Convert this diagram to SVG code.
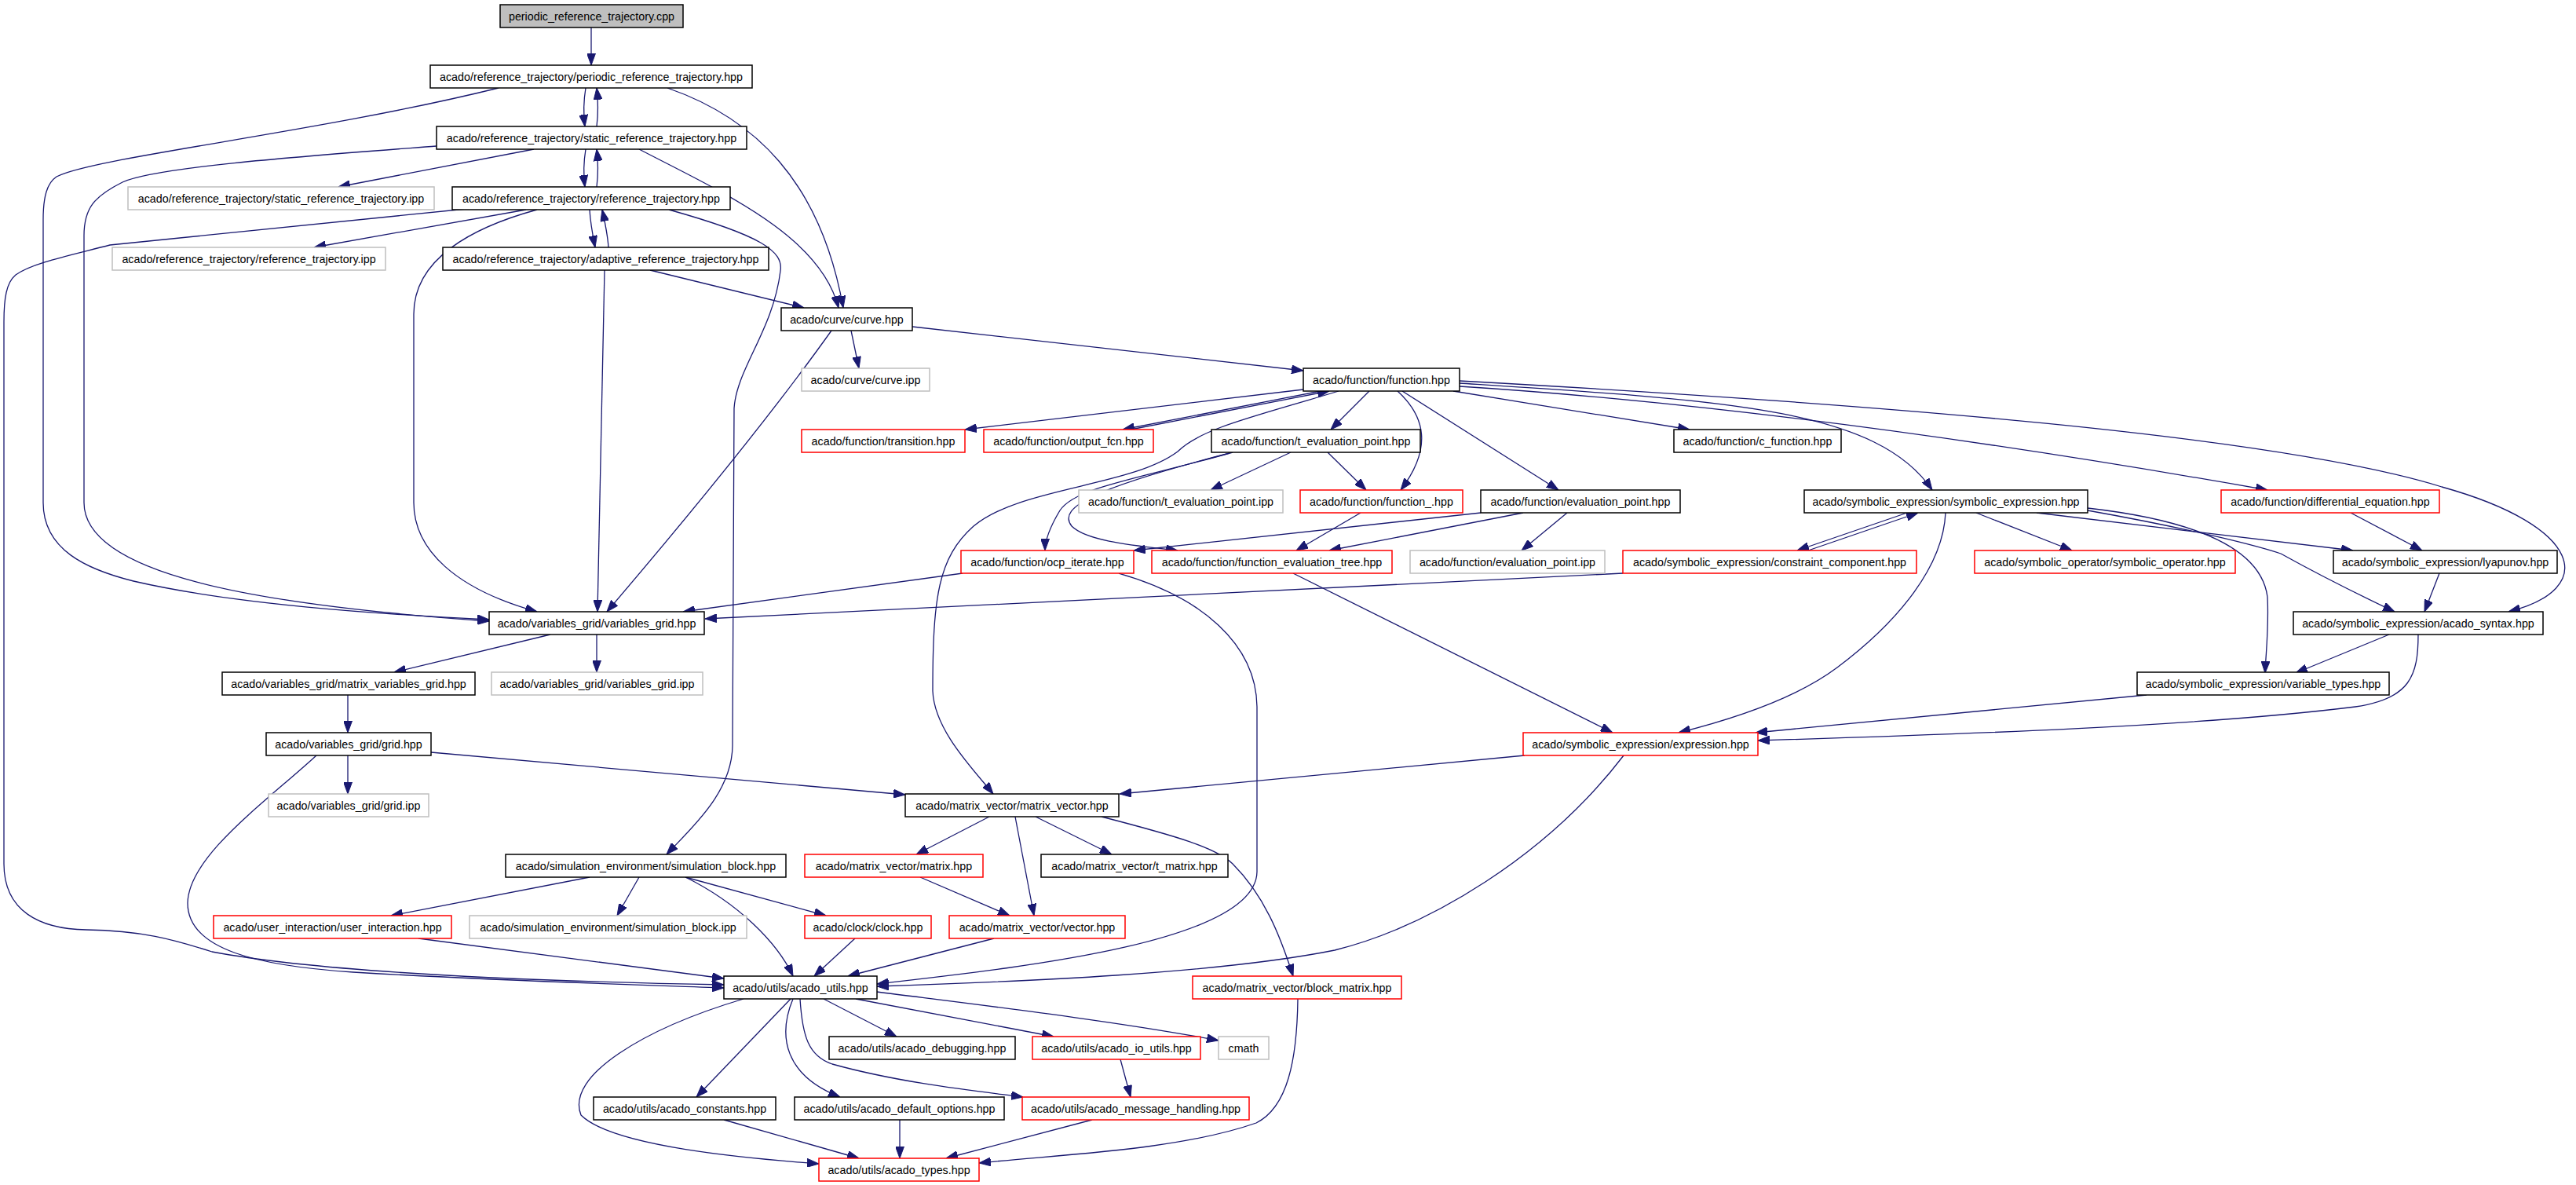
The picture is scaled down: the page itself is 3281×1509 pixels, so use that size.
<svg xmlns="http://www.w3.org/2000/svg" width="3281" height="1509" viewBox="0 0 3281 1509">
<style>
.e{fill:none;stroke:#191970;stroke-width:1.3;marker-end:url(#a)}
rect{fill:#fff;stroke:#000;stroke-width:1.5}
.r rect{stroke:#ff0000}
.g rect{stroke:#bfbfbf}
.root rect{fill:#bfbfbf}
text{font-family:"Liberation Sans",Arial,sans-serif;font-size:14.3px;fill:#000;text-anchor:middle}
</style>
<defs>
<marker id="a" markerUnits="userSpaceOnUse" markerWidth="15" markerHeight="11" refX="15" refY="5.5" orient="auto" viewBox="0 0 15 11"><path d="M0,0 L15,5.5 L0,11 z" fill="#191970" stroke="#191970"/></marker>
</defs>
<rect x="0" y="0" width="3281" height="1509" style="fill:#fff;stroke:none"/>
<g id="edges">
<path class="e" d="M753,34 L753,83"/>
<path class="e" d="M746,112 C743,130 743,145 745,161"/>
<path class="e" d="M760,161 C762,145 762,130 760,112"/>
<path class="e" d="M746,190 C743,208 743,222 745,238"/>
<path class="e" d="M760,238 C762,222 762,207 760,190"/>
<path class="e" d="M751,267 C752,285 755,300 758,315"/>
<path class="e" d="M775,315 C774,300 771,285 767,267"/>
<path class="e" d="M635,112 C400,170 120,200 72,225 C60,233 55,250 55,280 L55,640 C55,700 110,725 170,740 C300,770 480,782 623,789"/>
<path class="e" d="M556,186 C400,198 200,212 156,232 C120,250 107,265 107,300 L107,640 C107,730 320,770 623,791"/>
<path class="e" d="M680,190 L431,238"/>
<path class="e" d="M814,190 C920,245 1045,300 1068,392"/>
<path class="e" d="M850,112 C960,150 1045,230 1074,392"/>
<path class="e" d="M828,344 L1024,392"/>
<path class="e" d="M770,344 L761,779"/>
<path class="e" d="M684,267 C600,290 527,330 527,400 L527,640 C527,700 580,750 684,779"/>
<path class="e" d="M670,267 L400,315"/>
<path class="e" d="M594,266 L140,312 C90,325 40,335 20,350 C8,360 5,380 5,410 L5,1100 C5,1160 50,1183 110,1184 C180,1185 220,1196 270,1212 C420,1240 700,1250 922,1254"/>
<path class="e" d="M852,267 C970,300 998,320 994,345 C985,420 938,470 935,520 L933,950 C932,1010 880,1055 849,1088"/>
<path class="e" d="M1084,421 L1094,469"/>
<path class="e" d="M1162,416 L1660,472"/>
<path class="e" d="M1059,421 Q960,560 773,779"/>
<path class="e" d="M1226,730 L870,779"/>
<path class="e" d="M2067,730 L898,788"/>
<path class="e" d="M1660,496 L1229,547"/>
<path class="e" d="M1682,498 L1430,547"/>
<path class="e" d="M1440,547 L1693,498"/>
<path class="e" d="M1705,498 C1600,530 1530,545 1500,575 C1440,620 1300,620 1240,670 C1195,710 1188,760 1188,880 C1190,930 1240,980 1265,1011"/>
<path class="e" d="M1744,498 L1695,547"/>
<path class="e" d="M1780,498 C1815,530 1825,570 1784,624"/>
<path class="e" d="M1786,498 L1985,624"/>
<path class="e" d="M1851,498 L2152,547"/>
<path class="e" d="M1859,488 C2200,510 2390,520 2461,624"/>
<path class="e" d="M1859,492 Q2300,520 2888,624"/>
<path class="e" d="M1859,485 C2400,515 2900,555 3110,620 C3290,670 3310,750 3195,779"/>
<path class="e" d="M1644,576 L1542,624"/>
<path class="e" d="M1691,576 L1740,624"/>
<path class="e" d="M1570,576 C1450,610 1370,620 1350,650 C1335,675 1331,690 1331,701"/>
<path class="e" d="M1566,577 C1400,620 1345,645 1365,670 C1385,690 1450,695 1500,701"/>
<path class="e" d="M1733,653 L1651,701"/>
<path class="e" d="M1886,653 L1444,701"/>
<path class="e" d="M1940,653 L1693,701"/>
<path class="e" d="M1996,653 L1938,701"/>
<path class="e" d="M1425,730 C1530,760 1600,820 1601,900 L1601,1110 C1600,1200 1300,1232 1117,1253"/>
<path class="e" d="M1647,730 L2054,933"/>
<path class="e" d="M2429,653 L2289,701"/>
<path class="e" d="M2303,701 L2443,653"/>
<path class="e" d="M2517,653 L2639,701"/>
<path class="e" d="M2594,653 L2997,701"/>
<path class="e" d="M2659,650 C2760,668 2860,690 2905,705 C2950,730 3010,760 3050,779"/>
<path class="e" d="M2659,647 C2800,663 2880,700 2888,760 C2890,800 2886,830 2885,857"/>
<path class="e" d="M2478,653 C2475,720 2420,790 2340,850 C2280,895 2190,920 2138,933"/>
<path class="e" d="M2994,653 L3085,701"/>
<path class="e" d="M3107,730 L3088,779"/>
<path class="e" d="M3043,808 L2924,857"/>
<path class="e" d="M3080,808 C3080,860 3070,890 3000,900 C2800,925 2500,935 2239,943"/>
<path class="e" d="M2734,885 L2236,933"/>
<path class="e" d="M1942,962 L1426,1011"/>
<path class="e" d="M2068,962 C1970,1090 1820,1180 1700,1210 C1550,1240 1300,1250 1117,1256"/>
<path class="e" d="M549,958 L1153,1012"/>
<path class="e" d="M443,962 L443,1011"/>
<path class="e" d="M403,962 C340,1020 240,1090 239,1150 C239,1210 330,1230 450,1238 C650,1250 850,1255 922,1258"/>
<path class="e" d="M701,808 L502,856"/>
<path class="e" d="M760,808 L760,856"/>
<path class="e" d="M443,885 L443,933"/>
<path class="e" d="M1260,1040 L1167,1088"/>
<path class="e" d="M1293,1040 L1317,1166"/>
<path class="e" d="M1319,1040 L1416,1088"/>
<path class="e" d="M1403,1040 C1500,1065 1550,1080 1570,1100 C1610,1140 1630,1190 1647,1243"/>
<path class="e" d="M1172,1117 L1286,1166"/>
<path class="e" d="M1266,1195 L1080,1243"/>
<path class="e" d="M1089,1195 L1037,1243"/>
<path class="e" d="M873,1117 C940,1150 990,1200 1010,1243"/>
<path class="e" d="M873,1117 L1052,1166"/>
<path class="e" d="M814,1117 L786,1166"/>
<path class="e" d="M751,1117 L498,1166"/>
<path class="e" d="M533,1195 L922,1246"/>
<path class="e" d="M1007,1272 L887,1397"/>
<path class="e" d="M947,1272 C820,1310 720,1370 740,1420 C780,1460 950,1475 1043,1482"/>
<path class="e" d="M1010,1272 C990,1320 1000,1370 1070,1397"/>
<path class="e" d="M1019,1272 C1022,1320 1030,1345 1060,1355 C1150,1380 1250,1390 1303,1397"/>
<path class="e" d="M1049,1272 L1142,1320"/>
<path class="e" d="M1090,1272 L1342,1320"/>
<path class="e" d="M1117,1263 C1250,1280 1420,1300 1552,1325"/>
<path class="e" d="M1427,1349 L1440,1397"/>
<path class="e" d="M922,1426 L1094,1475"/>
<path class="e" d="M1146,1426 L1146,1475"/>
<path class="e" d="M1391,1426 L1205,1475"/>
<path class="e" d="M1653,1272 C1652,1350 1640,1410 1600,1430 C1500,1465 1350,1470 1247,1481"/>
</g>
<g id="n1" class="root"><rect x="637" y="6" width="233" height="29"/><text x="753.5" y="25.5">periodic_reference_trajectory.cpp</text></g>
<g id="n2"><rect x="548" y="83" width="410" height="29"/><text x="753" y="102.5">acado/reference_trajectory/periodic_reference_trajectory.hpp</text></g>
<g id="n3"><rect x="556" y="161" width="395" height="29"/><text x="753.5" y="180.5">acado/reference_trajectory/static_reference_trajectory.hpp</text></g>
<g id="n4" class="g"><rect x="163" y="238" width="390" height="29"/><text x="358" y="257.5">acado/reference_trajectory/static_reference_trajectory.ipp</text></g>
<g id="n5"><rect x="576" y="238" width="354" height="29"/><text x="753" y="257.5">acado/reference_trajectory/reference_trajectory.hpp</text></g>
<g id="n6" class="g"><rect x="143" y="315" width="348" height="29"/><text x="317" y="334.5">acado/reference_trajectory/reference_trajectory.ipp</text></g>
<g id="n7"><rect x="564" y="315" width="415" height="29"/><text x="771.5" y="334.5">acado/reference_trajectory/adaptive_reference_trajectory.hpp</text></g>
<g id="n8"><rect x="995" y="392" width="167" height="29"/><text x="1078.5" y="411.5">acado/curve/curve.hpp</text></g>
<g id="n9" class="g"><rect x="1021" y="469" width="163" height="29"/><text x="1102.5" y="488.5">acado/curve/curve.ipp</text></g>
<g id="n10"><rect x="1660" y="469" width="199" height="29"/><text x="1759.5" y="488.5">acado/function/function.hpp</text></g>
<g id="n11" class="r"><rect x="1021" y="547" width="208" height="29"/><text x="1125" y="566.5">acado/function/transition.hpp</text></g>
<g id="n12" class="r"><rect x="1253" y="547" width="216" height="29"/><text x="1361" y="566.5">acado/function/output_fcn.hpp</text></g>
<g id="n13"><rect x="1543" y="547" width="266" height="29"/><text x="1676" y="566.5">acado/function/t_evaluation_point.hpp</text></g>
<g id="n14"><rect x="2132" y="547" width="213" height="29"/><text x="2238.5" y="566.5">acado/function/c_function.hpp</text></g>
<g id="n15" class="g"><rect x="1374" y="624" width="260" height="29"/><text x="1504" y="643.5">acado/function/t_evaluation_point.ipp</text></g>
<g id="n16" class="r"><rect x="1656" y="624" width="207" height="29"/><text x="1759.5" y="643.5">acado/function/function_.hpp</text></g>
<g id="n17"><rect x="1886" y="624" width="254" height="29"/><text x="2013" y="643.5">acado/function/evaluation_point.hpp</text></g>
<g id="n18"><rect x="2298" y="624" width="361" height="29"/><text x="2478.5" y="643.5">acado/symbolic_expression/symbolic_expression.hpp</text></g>
<g id="n19" class="r"><rect x="2829" y="624" width="278" height="29"/><text x="2968" y="643.5">acado/function/differential_equation.hpp</text></g>
<g id="n20" class="r"><rect x="1224" y="701" width="220" height="29"/><text x="1334" y="720.5">acado/function/ocp_iterate.hpp</text></g>
<g id="n21" class="r"><rect x="1467" y="701" width="306" height="29"/><text x="1620" y="720.5">acado/function/function_evaluation_tree.hpp</text></g>
<g id="n22" class="g"><rect x="1796" y="701" width="248" height="29"/><text x="1920" y="720.5">acado/function/evaluation_point.ipp</text></g>
<g id="n23" class="r"><rect x="2067" y="701" width="374" height="29"/><text x="2254" y="720.5">acado/symbolic_expression/constraint_component.hpp</text></g>
<g id="n24" class="r"><rect x="2515" y="701" width="332" height="29"/><text x="2681" y="720.5">acado/symbolic_operator/symbolic_operator.hpp</text></g>
<g id="n25"><rect x="2972" y="701" width="285" height="29"/><text x="3114.5" y="720.5">acado/symbolic_expression/lyapunov.hpp</text></g>
<g id="n26"><rect x="623" y="779" width="274" height="29"/><text x="760" y="798.5">acado/variables_grid/variables_grid.hpp</text></g>
<g id="n27"><rect x="2921" y="779" width="318" height="29"/><text x="3080" y="798.5">acado/symbolic_expression/acado_syntax.hpp</text></g>
<g id="n28"><rect x="283" y="856" width="322" height="29"/><text x="444" y="875.5">acado/variables_grid/matrix_variables_grid.hpp</text></g>
<g id="n29" class="g"><rect x="626" y="856" width="269" height="29"/><text x="760.5" y="875.5">acado/variables_grid/variables_grid.ipp</text></g>
<g id="n30"><rect x="2722" y="856" width="321" height="29"/><text x="2882.5" y="875.5">acado/symbolic_expression/variable_types.hpp</text></g>
<g id="n31"><rect x="339" y="933" width="210" height="29"/><text x="444" y="952.5">acado/variables_grid/grid.hpp</text></g>
<g id="n32" class="r"><rect x="1940" y="933" width="299" height="29"/><text x="2089.5" y="952.5">acado/symbolic_expression/expression.hpp</text></g>
<g id="n33" class="g"><rect x="342" y="1011" width="204" height="29"/><text x="444" y="1030.5">acado/variables_grid/grid.ipp</text></g>
<g id="n34"><rect x="1153" y="1011" width="272" height="29"/><text x="1289" y="1030.5">acado/matrix_vector/matrix_vector.hpp</text></g>
<g id="n35"><rect x="644" y="1088" width="357" height="29"/><text x="822.5" y="1107.5">acado/simulation_environment/simulation_block.hpp</text></g>
<g id="n36" class="r"><rect x="1025" y="1088" width="227" height="29"/><text x="1138.5" y="1107.5">acado/matrix_vector/matrix.hpp</text></g>
<g id="n37"><rect x="1326" y="1088" width="238" height="29"/><text x="1445" y="1107.5">acado/matrix_vector/t_matrix.hpp</text></g>
<g id="n38" class="r"><rect x="272" y="1166" width="303" height="29"/><text x="423.5" y="1185.5">acado/user_interaction/user_interaction.hpp</text></g>
<g id="n39" class="g"><rect x="598" y="1166" width="353" height="29"/><text x="774.5" y="1185.5">acado/simulation_environment/simulation_block.ipp</text></g>
<g id="n40" class="r"><rect x="1025" y="1166" width="161" height="29"/><text x="1105.5" y="1185.5">acado/clock/clock.hpp</text></g>
<g id="n41" class="r"><rect x="1209" y="1166" width="224" height="29"/><text x="1321" y="1185.5">acado/matrix_vector/vector.hpp</text></g>
<g id="n42"><rect x="922" y="1243" width="195" height="29"/><text x="1019.5" y="1262.5">acado/utils/acado_utils.hpp</text></g>
<g id="n43" class="r"><rect x="1519" y="1243" width="266" height="29"/><text x="1652" y="1262.5">acado/matrix_vector/block_matrix.hpp</text></g>
<g id="n44"><rect x="1056" y="1320" width="237" height="29"/><text x="1174.5" y="1339.5">acado/utils/acado_debugging.hpp</text></g>
<g id="n45" class="r"><rect x="1315" y="1320" width="214" height="29"/><text x="1422" y="1339.5">acado/utils/acado_io_utils.hpp</text></g>
<g id="n46" class="g"><rect x="1552" y="1320" width="64" height="29"/><text x="1584" y="1339.5">cmath</text></g>
<g id="n47"><rect x="756" y="1397" width="232" height="29"/><text x="872" y="1416.5">acado/utils/acado_constants.hpp</text></g>
<g id="n48"><rect x="1012" y="1397" width="267" height="29"/><text x="1145.5" y="1416.5">acado/utils/acado_default_options.hpp</text></g>
<g id="n49" class="r"><rect x="1302" y="1397" width="289" height="29"/><text x="1446.5" y="1416.5">acado/utils/acado_message_handling.hpp</text></g>
<g id="n50" class="r"><rect x="1043" y="1475" width="204" height="29"/><text x="1145" y="1494.5">acado/utils/acado_types.hpp</text></g>
</svg>
